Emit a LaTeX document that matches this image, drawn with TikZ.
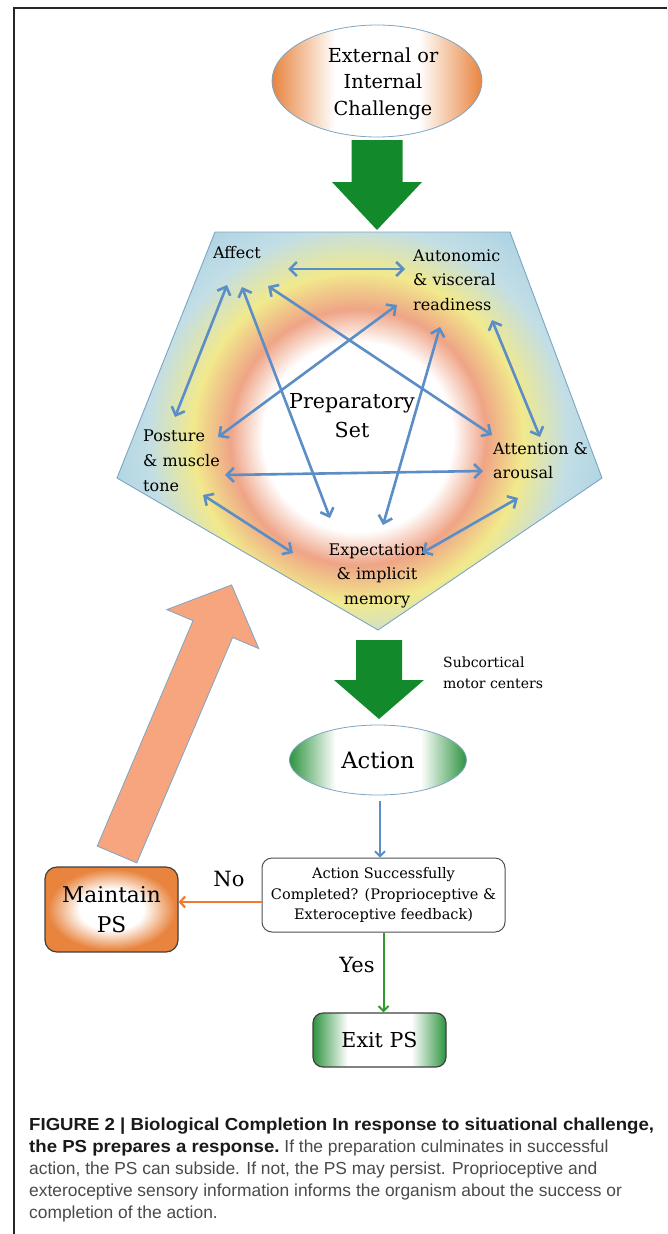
\documentclass[tikz,border=0pt]{standalone}
\usepackage{fontspec}
\setmainfont{DejaVu Serif}
\newfontfamily\capfont{Liberation Sans}
\usetikzlibrary{arrows.meta,shapes.geometric,calc}
\definecolor{linkblue}{HTML}{5B8EC6}
\definecolor{bigGreen}{HTML}{12892A}
\definecolor{pentblue}{HTML}{C2DEE6}
\definecolor{pentblue2}{HTML}{B0D4E3}
\definecolor{ringorange}{HTML}{EFA486}
\definecolor{ringyellow}{HTML}{F1E98C}
\definecolor{chalorange}{HTML}{E8843E}
\definecolor{salmon}{HTML}{F6A57E}
\definecolor{outline}{HTML}{7EA6C4}
\definecolor{noorange}{HTML}{EE7B30}
\definecolor{yesgreen}{HTML}{2C9A2C}
\definecolor{actgreen}{HTML}{2E9440}
\definecolor{capgray}{HTML}{4A4A4A}
\definecolor{boxgray}{HTML}{505050}
\pgfdeclareradialshading{psring}{\pgfpoint{0bp}{0bp}}{color(0bp)=(white); color(9.5bp)=(white); color(12.8bp)=(ringorange); color(16.5bp)=(ringyellow); color(21bp)=(pentblue); color(25bp)=(pentblue2); color(50bp)=(pentblue2)}
\pgfdeclarehorizontalshading{chalshade}{100bp}{color(0bp)=(chalorange); color(25bp)=(chalorange); color(40bp)=(white); color(60bp)=(white); color(75bp)=(chalorange); color(100bp)=(chalorange)}
\pgfdeclareradialshading{maintshade}{\pgfpoint{0bp}{0bp}}{color(0bp)=(white); color(12bp)=(white); color(24bp)=(chalorange); color(50bp)=(chalorange)}
\pgfdeclarehorizontalshading{greenends}{100bp}{color(0bp)=(actgreen); color(25bp)=(actgreen); color(38bp)=(white); color(62bp)=(white); color(75bp)=(actgreen); color(100bp)=(actgreen)}
\tikzset{
  lbl/.style={font=\fontsize{16}{24.5}\selectfont, inner sep=0pt, align=left},
  biarrow/.style={linkblue, line width=2.6pt, {Straight Barb[length=7pt,width=14pt]}-{Straight Barb[length=7pt,width=14pt]}},
  bigarrow/.style={fill=bigGreen, draw=none},
  capline/.style={anchor=base west, inner sep=0pt, font=\capfont\fontsize{17.4}{22}\selectfont, text=capgray},
}
\newcommand{\capbold}[1]{{\bfseries\color{black!90}\scalebox{1.07}[1]{#1}}}
\begin{document}
\begin{tikzpicture}[x=1pt,y=-1pt]
\useasboundingbox (0,0) rectangle (667,1234);
% frame
\draw[line width=1.6pt, black!85] (14,1234) -- (14,8) -- (667,8);

% challenge ellipse
\node[ellipse, minimum width=210pt, minimum height=112pt, shading=chalshade, draw=outline, line width=0.8pt] (chal) at (377,81) {};
\node[font=\fontsize{19.3}{26.5}\selectfont, align=center, anchor=base, inner sep=0pt] (chaltxt) at (383,115) {External or\\Internal\\Challenge};

% green arrow 1
\coordinate (g1) at (377,140);
\fill[bigarrow] ($(g1)+(-25.5,0)$) -- ($(g1)+(25.5,0)$) -- ($(g1)+(25.5,42)$) -- ($(g1)+(45,42)$) -- ($(g1)+(0,90)$) -- ($(g1)+(-45,42)$) -- ($(g1)+(-25.5,42)$) -- cycle;

% pentagon
\coordinate (pA) at (215,232);
\coordinate (pB) at (510,232);
\coordinate (pC) at (602,478);
\coordinate (pD) at (378,630);
\coordinate (pE) at (117,478);
\begin{scope}
\clip (pA) -- (pB) -- (pC) -- (pD) -- (pE) -- cycle;
\fill[pentblue2] (100,220) rectangle (620,640);
\shade[shading=psring] (358,437) circle (250pt);
\end{scope}
\draw[outline, line width=0.9pt] (pA) -- (pB) -- (pC) -- (pD) -- (pE) -- cycle;

% labels
\node[lbl, anchor=base west] (affect) at (213,258) {Affect};
\node[lbl, anchor=base west] (auto) at (413,310) {Autonomic\\\& visceral\\readiness};
\node[lbl, anchor=base west, font=\fontsize{16}{25}\selectfont] (posture) at (143,491) {Posture\\\& muscle\\tone};
\node[lbl, anchor=base west, font=\fontsize{16}{24}\selectfont] (attn) at (493,478) {Attention \&\\arousal};
\node[lbl, anchor=base, align=center] (expect) at (377,604) {Expectation\\\& implicit\\memory};
\node[font=\fontsize{20.6}{29}\selectfont, inner sep=0pt, align=center, anchor=base] (prep) at (352,437) {Preparatory\\Set};

% connector end points
\coordinate (af1) at (288,269); \coordinate (au1) at (405,269);
\coordinate (af2) at (227,285); \coordinate (po1) at (175,417);
\coordinate (af3) at (242,287); \coordinate (ex1) at (330,518);
\coordinate (af4) at (268,286); \coordinate (at1) at (492,435);
\coordinate (au2) at (397,305); \coordinate (po2) at (218,437);
\coordinate (au3) at (440,327); \coordinate (ex2) at (383,525);
\coordinate (au4) at (492,320); \coordinate (at2) at (540,437);
\coordinate (po3) at (225,475); \coordinate (at3) at (483,471);
\coordinate (po4) at (203,495); \coordinate (ex3) at (293,553);
\coordinate (at4) at (518,498); \coordinate (ex4) at (422,553);
\draw[biarrow] (af1) -- (au1);
\draw[biarrow] (af2) -- (po1);
\draw[biarrow] (af3) -- (ex1);
\draw[biarrow] (af4) -- (at1);
\draw[biarrow] (au2) -- (po2);
\draw[biarrow] (au3) -- (ex2);
\draw[biarrow] (au4) -- (at2);
\draw[biarrow] (po3) -- (at3);
\draw[biarrow] (po4) -- (ex3);
\draw[biarrow] (at4) -- (ex4);

% green arrow 2
\coordinate (g2) at (379,640);
\fill[bigarrow] ($(g2)+(-23,0)$) -- ($(g2)+(23,0)$) -- ($(g2)+(23,40)$) -- ($(g2)+(45,40)$) -- ($(g2)+(0,79)$) -- ($(g2)+(-45,40)$) -- ($(g2)+(-23,40)$) -- cycle;
\node[font=\fontsize{14}{21}\selectfont, inner sep=0pt, align=left, anchor=base west] (subc) at (443,688) {Subcortical\\motor centers};

% action
\node[ellipse, minimum width=177pt, minimum height=70pt, shading=greenends, draw=outline, line width=0.8pt, font=\fontsize{22.6}{27}\selectfont] (action) at (378,760) {Action};

% decision box
\node[draw=boxgray, line width=1pt, rounded corners=10pt, fill=white, minimum width=243pt, minimum height=74pt, align=center, font=\fontsize{14.5}{20.5}\selectfont, inner sep=0pt] (dec) at (383.5,895) {Action Successfully\\Completed? (Proprioceptive \&\\Exteroceptive feedback)};

% maintain
\node[draw=black!75, line width=1.2pt, rounded corners=12pt, shading=maintshade, minimum width=133pt, minimum height=85pt, align=center, font=\fontsize{21.7}{30}\selectfont, inner sep=0pt] (maint) at (111.5,909.5) {Maintain\\PS};

% exit
\node[draw=black!75, line width=1.2pt, rounded corners=10pt, shading=greenends, minimum width=133pt, minimum height=54pt, font=\fontsize{20.6}{25}\selectfont, inner sep=0pt] (exit) at (379.5,1040) {Exit PS};

% flow arrows
\draw[linkblue, line width=1.8pt, -{Straight Barb[length=5pt,width=10pt]}] (action.south) ++(2,6) coordinate (actbot) -- (dec.north -| actbot);
\draw[noorange, line width=2.2pt, -{Straight Barb[length=5pt,width=11pt]}] ([yshift=-7pt]dec.west) -- ([yshift=-7pt]dec.west -| maint.east);
\draw[yesgreen, line width=2pt, -{Straight Barb[length=5pt,width=10pt]}] (dec.south) -- (exit.north -| dec.south);
\node[font=\fontsize{21}{25}\selectfont, inner sep=0pt, anchor=base] (no) at (229,886) {No};
\node[font=\fontsize{21}{25}\selectfont, inner sep=0pt, anchor=base] (yes) at (357,972) {Yes};

% salmon feedback arrow
\fill[salmon, draw=outline, line width=0.8pt] (136.8,862.9) -- (97.2,846.1) -- (193.0,620.7) -- (166.8,609.6) -- (231.6,584.9) -- (258.8,648.6) -- (232.6,637.5) -- cycle;

% caption
\node[capline] (c1) at (29,1130) {\capbold{FIGURE 2 | Biological Completion In response to situational challenge,}};
\node[capline] (c2) at (29,1152) {\capbold{the PS prepares a response.} If the preparation culminates in successful};
\node[capline] (c3) at (29,1174) {action, the PS can subside. If not, the PS may persist. Proprioceptive and};
\node[capline] (c4) at (29,1196) {exteroceptive sensory information informs the organism about the success or};
\node[capline] (c5) at (29,1218) {completion of the action.};
\end{tikzpicture}
\end{document}
